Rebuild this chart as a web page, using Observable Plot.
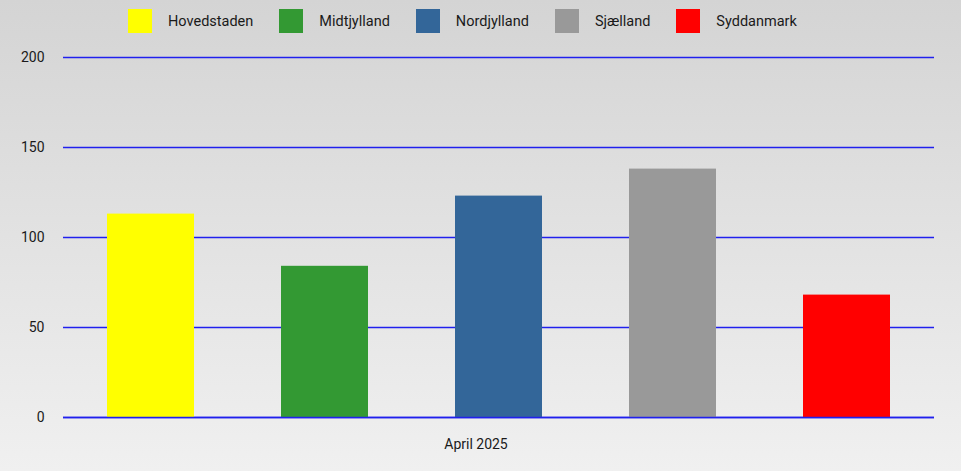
<!DOCTYPE html>
<html>
<head>
<meta charset="utf-8">
<script src="https://cdn.jsdelivr.net/npm/d3@7"></script>
<script src="https://cdn.jsdelivr.net/npm/@observablehq/plot@0.6"></script>
<style>
  html, body { margin: 0; padding: 0; }
  body {
    width: 961px; height: 471px; overflow: hidden;
    background: linear-gradient(to bottom, #d4d4d4 0%, #f0f0f0 100%);
    font-family: Roboto, "Noto Sans", sans-serif;
  }
  #legend {
    height: 42px; display: flex; align-items: center;
    padding-left: 128px; box-sizing: border-box;
    font-size: 14.5px; color: #1a1a1a;
  }
  .item { display: flex; align-items: center; margin-right: 26px; }
  .sw { width: 24px; height: 24px; margin-right: 16px; box-sizing: border-box; }
  svg { display: block; background: transparent; }
</style>
</head>
<body>
<div id="legend"></div>
<div id="chart"></div>
<script>
const regions = ["Hovedstaden", "Midtjylland", "Nordjylland", "Sjælland", "Syddanmark"];
const values = [113, 84, 123, 138, 68];
const colors = ["#ffff00", "#339933", "#336699", "#999999", "#ff0000"];
const period = "April 2025";
const yTicks = [0, 50, 100, 150, 200];

const data = regions.map((r, i) => ({region: r, value: values[i]}));

const legend = document.getElementById("legend");
regions.forEach((r, i) => {
  const it = document.createElement("div");
  it.className = "item";
  const sw = document.createElement("div");
  sw.className = "sw";
  sw.style.background = colors[i];
  const t = document.createElement("span");
  t.textContent = r;
  it.appendChild(sw); it.appendChild(t);
  legend.appendChild(it);
});

const chart = Plot.plot({
  width: 961,
  height: 429,
  marginTop: 15,
  marginBottom: 54,
  marginLeft: 63,
  marginRight: 27,
  style: {fontFamily: "Roboto, 'Noto Sans', sans-serif", fontSize: "14px", background: "transparent", color: "#1a1a1a"},
  x: {domain: regions, paddingInner: 0.5, paddingOuter: 0.25, axis: null},
  y: {domain: [0, 200], ticks: yTicks, label: null, tickSize: 0, tickPadding: 19},
  color: {domain: regions, range: colors},
  marks: [
    Plot.gridY(yTicks, {stroke: "#2020ee", strokeOpacity: 1, strokeWidth: 1.5}),
    Plot.barY(data, {x: "region", y: "value", fill: "region"}),
    Plot.ruleY([0], {stroke: "#2020ee", strokeWidth: 1.5}),
    Plot.axisY(yTicks, {tickSize: 0, tickPadding: 19, fontSize: 14, fill: "#1a1a1a", label: null}),
    Plot.text([period], {frameAnchor: "bottom", dy: 31, dx: -23, fontSize: 14, fill: "#1a1a1a"})
  ]
});
document.getElementById("chart").appendChild(chart);
</script>
</body>
</html>
